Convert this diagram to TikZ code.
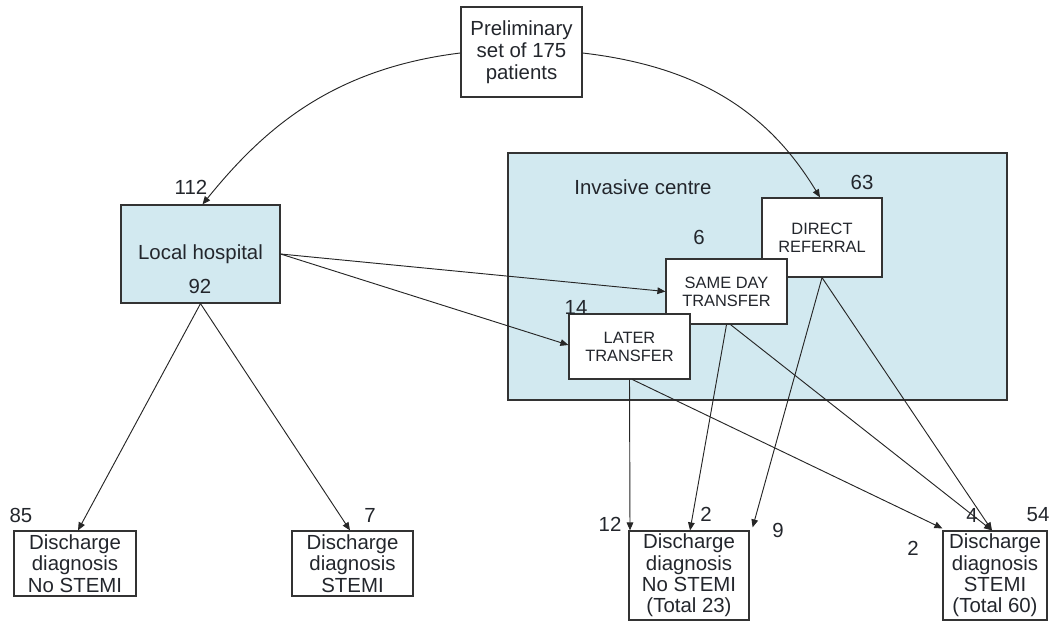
\documentclass[tikz,border=0pt]{standalone}
\usepackage{fontspec}
\setmainfont{Liberation Sans}
\usetikzlibrary{arrows.meta,calc}
\definecolor{boxblue}{RGB}{210,233,240}
\definecolor{txt}{RGB}{35,38,44}
\begin{document}
\begin{tikzpicture}[x=0.75pt,y=-0.75pt,
  box/.style={draw=black!80, line width=0.9pt, fill=white, inner sep=0pt, align=center, text=txt, font=\fontsize{15.3}{16.5}\selectfont},
  lowbox/.style={box, font=\fontsize{15.3}{15.9}\selectfont},
  smallbox/.style={box, font=\fontsize{12.3}{13.5}\selectfont},
  lbl/.style={inner sep=0pt, text=txt, font=\fontsize{15.3}{18}\selectfont},
  arr/.style={-{Triangle[length=6pt,width=5pt]}, line width=0.7pt, draw=black!85},
]
\useasboundingbox (0,0) rectangle (1052,621);

% containers and boxes
\node[box, fill=boxblue, minimum width=499*0.75pt, minimum height=247*0.75pt] (inv) at (757.5,276.5) {};
\node[lbl] (invlbl) at (643,187) {Invasive centre};

\node[box, minimum width=121*0.75pt, minimum height=90*0.75pt] (prelim) at (521.5,52) {Preliminary\\set of 175\\patients};

\node[box, fill=boxblue, minimum width=159*0.75pt, minimum height=98*0.75pt] (lh) at (200.5,254) {Local hospital};
\node[lbl] (n92) at (200,286) {92};

\node[smallbox, minimum width=120*0.75pt, minimum height=79*0.75pt] (dr) at (822,237.5) {DIRECT\\REFERRAL};
\node[smallbox, minimum width=121*0.75pt, minimum height=65*0.75pt] (sd) at (726.5,291.5) {SAME DAY\\TRANSFER};
\node[smallbox, minimum width=121*0.75pt, minimum height=65*0.75pt] (lt) at (629.5,346.5) {LATER\\TRANSFER};

\node[lowbox, minimum width=122*0.75pt, minimum height=65*0.75pt] (d1) at (75,563.5) {Discharge\\diagnosis\\No STEMI};
\node[lowbox, minimum width=121*0.75pt, minimum height=65*0.75pt] (d2) at (352.5,563.5) {Discharge\\diagnosis\\STEMI};
\node[lowbox, minimum width=120*0.75pt, minimum height=89*0.75pt] (d3) at (689,575.5) {Discharge\\diagnosis\\No STEMI\\(Total 23)};
\node[lowbox, minimum width=104*0.75pt, minimum height=89*0.75pt] (d4) at (995,575.5) {Discharge\\diagnosis\\STEMI\\(Total 60)};

% number labels
\node[lbl] (n112) at (191,187) {112};
\node[lbl] (n63) at (862,182) {63};
\node[lbl] (n6) at (699,237) {6};
\node[lbl] (n14) at (576,307) {14};
\node[lbl] (n85) at (21,515) {85};
\node[lbl] (n7) at (370,515) {7};
\node[lbl] (n12) at (610,524) {12};
\node[lbl] (n2a) at (706,514) {2};
\node[lbl] (n9) at (778,530) {9};
\node[lbl] (n2b) at (913,548) {2};
\node[lbl] (n4) at (972,515) {4};
\node[lbl] (n54) at (1038,515) {54};

% connectors
\draw[arr] ($(prelim.west)+(0,1)$) .. controls (330,69) and (262,131) .. ($(lh.north)+(2,0)$);
\draw[arr] ($(prelim.east)+(0,1)$) .. controls (703,67) and (770,115) .. ($(dr.north)+(-2,0)$);

\draw[arr] (lh.east) -- (sd.west);
\draw[arr] (lh.east) -- ($(lt.west)+(0,-1.5)$);
\draw[arr] (lh.south) -- ($(d1.north)+(3,0)$);
\draw[arr] (lh.south) -- ($(d2.north)+(-2.5,0)$);

\draw[arr] (lt.south) -- ($(d3.north)+(-59,0)$);
\draw[arr] ($(lt.south)+(3,0)$) -- ($(d4.north west)+(0,-2)$);
\draw[arr] (sd.south) -- ($(d3.north)+(1,0)$);
\draw[arr] ($(sd.south)+(4,0)$) -- ($(d4.north)+(-3,0)$);
\draw[arr] (dr.south) -- ($(d3.north east)+(3,-3)$);
\draw[arr] (dr.south) -- ($(d4.north)+(-3,0)$);
\end{tikzpicture}
\end{document}
